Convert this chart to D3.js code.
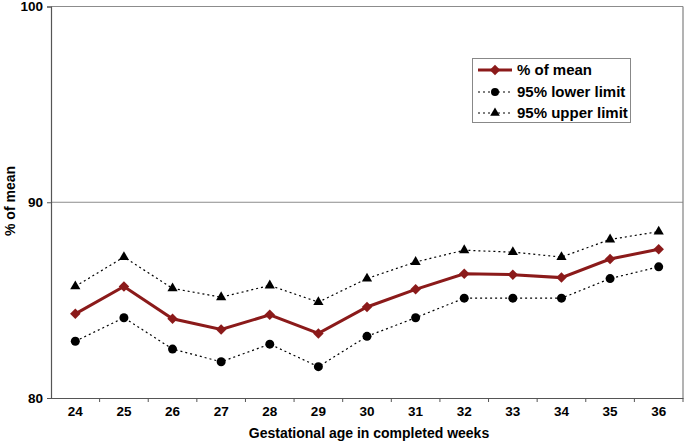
<!DOCTYPE html>
<html>
<head>
<meta charset="utf-8">
<script src="https://cdn.jsdelivr.net/npm/d3@7"></script>
<style>
  html, body { margin: 0; padding: 0; background: #fff; }
  svg { display: block; font-family: "Liberation Sans", Arial, sans-serif; }
</style>
</head>
<body>
<svg id="chart" width="685" height="441"></svg>
<script>
const weeks = [24, 25, 26, 27, 28, 29, 30, 31, 32, 33, 34, 35, 36];
const meanPct = [84.3, 85.7, 84.05, 83.5, 84.25, 83.3, 84.65, 85.55, 86.35, 86.3, 86.15, 87.1, 87.6];
const lowerLimit = [82.9, 84.1, 82.5, 81.85, 82.75, 81.6, 83.15, 84.1, 85.1, 85.1, 85.1, 86.1, 86.7];
const upperLimit = [85.7, 87.2, 85.6, 85.15, 85.75, 84.9, 86.1, 86.95, 87.55, 87.45, 87.2, 88.1, 88.5];
const yTicks = [80, 90, 100];
const seriesNames = ["% of mean", "95% lower limit", "95% upper limit"];

(function () {
const svg = d3.select("#chart");
const pL = 51, pR = 683, pT = 6.5, pB = 398;

const x = d3.scaleBand().domain(weeks).range([pL, pR]).padding(0);
const y = d3.scaleLinear().domain([80, 100]).range([pB, pT]);
const cx = d => x(d) + x.bandwidth() / 2;

// gridlines
svg.append("g").selectAll("line").data(yTicks.filter(t => t > 80)).join("line")
  .attr("x1", pL).attr("x2", pR)
  .attr("y1", d => y(d)).attr("y2", d => y(d))
  .attr("stroke", "#8c8c8c").attr("stroke-width", 1);

// right border
svg.append("line").attr("x1", pR).attr("x2", pR).attr("y1", pT).attr("y2", pB)
  .attr("stroke", "#808080").attr("stroke-width", 1.2);

// y axis
const yAxis = svg.append("g").attr("transform", `translate(${pL},0)`)
  .call(d3.axisLeft(y).tickValues(yTicks).tickSize(4).tickPadding(4));
yAxis.select(".domain").attr("stroke", "#555").attr("stroke-width", 1.2);
yAxis.selectAll(".tick line").attr("stroke", "#555");
yAxis.selectAll("text").attr("font-size", 13.5).attr("font-weight", "bold").attr("fill", "#000")
  .attr("font-family", "Liberation Sans, Arial, sans-serif");

// x axis
const xAxis = svg.append("g").attr("transform", `translate(0,${pB})`)
  .call(d3.axisBottom(x).tickSize(0).tickPadding(8));
xAxis.select(".domain").attr("stroke", "#555").attr("stroke-width", 1.2);
xAxis.selectAll("text").attr("font-size", 13.5).attr("font-weight", "bold").attr("fill", "#000")
  .attr("font-family", "Liberation Sans, Arial, sans-serif");
// tick marks between categories
svg.append("g").selectAll("line").data(weeks.slice(1).concat(["end"])).join("line")
  .attr("x1", (d, i) => i < weeks.length - 1 ? x(d) : pR)
  .attr("x2", (d, i) => i < weeks.length - 1 ? x(d) : pR)
  .attr("y1", pB).attr("y2", pB + 4)
  .attr("stroke", "#555");

// axis titles
svg.append("text").attr("x", 369).attr("y", 438).attr("text-anchor", "middle")
  .attr("font-size", 14).attr("font-weight", "bold").text("Gestational age in completed weeks");
svg.append("text").attr("transform", "translate(15,201) rotate(-90)").attr("text-anchor", "middle")
  .attr("font-size", 14).attr("font-weight", "bold").text("% of mean");

const line = d3.line().x((d, i) => cx(weeks[i])).y(d => y(d));

[upperLimit, lowerLimit].forEach(arr => {
  svg.append("path").datum(arr).attr("d", line).attr("fill", "none")
    .attr("stroke", "#000").attr("stroke-width", 1.2).attr("stroke-dasharray", "2,3");
});
svg.append("path").datum(meanPct).attr("d", line).attr("fill", "none")
  .attr("stroke", "#8b1a1a").attr("stroke-width", 3);

const sym = (type, size) => d3.symbol().type(type).size(size)();
svg.append("g").selectAll("path").data(upperLimit).join("path")
  .attr("transform", (d, i) => `translate(${cx(weeks[i])},${y(d)})`)
  .attr("d", sym(d3.symbolTriangle, 45)).attr("fill", "#000");
svg.append("g").selectAll("circle").data(lowerLimit).join("circle")
  .attr("cx", (d, i) => cx(weeks[i])).attr("cy", d => y(d)).attr("r", 4.5).attr("fill", "#000");
svg.append("g").selectAll("path").data(meanPct).join("path")
  .attr("transform", (d, i) => `translate(${cx(weeks[i])},${y(d)})`)
  .attr("d", sym(d3.symbolDiamond2, 70)).attr("fill", "#8b1a1a");

// legend
const lg = svg.append("g");
lg.append("rect").attr("x", 472.5).attr("y", 58.5).attr("width", 158).attr("height", 64)
  .attr("fill", "#fff").attr("stroke", "#888").attr("stroke-width", 1);
const rows = [70, 92, 113];
seriesNames.forEach((name, i) => {
  const ry = rows[i];
  const ln = lg.append("line").attr("x1", 478).attr("x2", 512).attr("y1", ry).attr("y2", ry)
    .attr("stroke", i === 0 ? "#8b1a1a" : "#000").attr("stroke-width", i === 0 ? 3 : 1.2);
  if (i > 0) ln.attr("stroke-dasharray", "2,3");
  if (i === 0) lg.append("path").attr("transform", `translate(495,${ry})`).attr("d", sym(d3.symbolDiamond2, 70)).attr("fill", "#8b1a1a");
  if (i === 1) lg.append("circle").attr("cx", 495).attr("cy", ry).attr("r", 4).attr("fill", "#000");
  if (i === 2) lg.append("path").attr("transform", `translate(495,${ry})`).attr("d", sym(d3.symbolTriangle, 40)).attr("fill", "#000");
  lg.append("text").attr("x", 517).attr("y", ry + 5).attr("font-size", 15).attr("font-weight", "bold").text(name);
});
})();
</script>
</body>
</html>
